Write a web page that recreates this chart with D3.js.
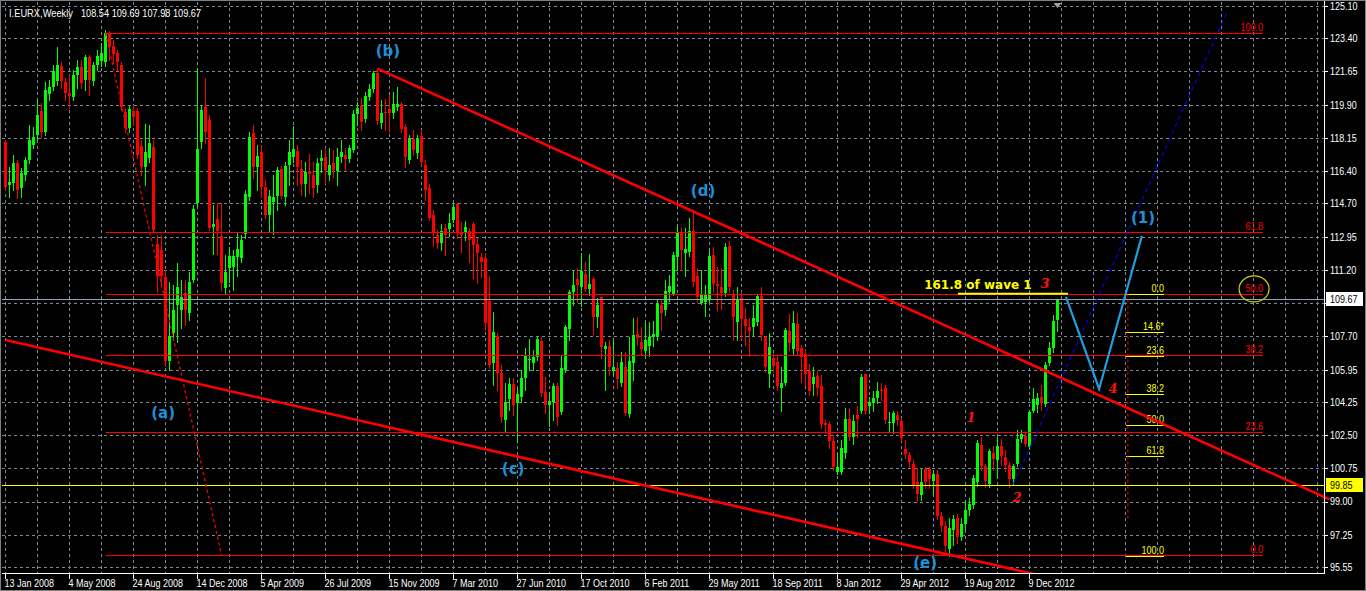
<!DOCTYPE html>
<html><head><meta charset="utf-8">
<script src="https://cdn.jsdelivr.net/npm/d3@7"></script>
<style>
html,body{margin:0;padding:0;background:#000;overflow:hidden}
svg{display:block}
.ax{font-family:"Liberation Sans","DejaVu Sans",sans-serif;font-size:11px}
</style></head><body>
<svg id="c" width="1366" height="591"></svg>
<script>
// ---------------- DATA (weekly bars, first bar = 13 Jan 2008) ----------------
const openP = [
117.94,115.68,115.78,116.83,115.52,116.21,116.99,117.79,118.31,119.58,
118.47,120.47,120.84,121.16,121.94,121.10,120.52,120.31,121.47,121.89,
121.21,122.42,121.16,122.00,122.21,122.16,123.68,122.99,122.63,122.00,
119.52,118.68,119.58,119.58,117.73,116.62,117.10,117.68,112.57,112.25,
110.83,106.41,107.88,109.36,109.09,109.99,108.93,110.67,114.73,117.94,
119.78,119.10,113.46,113.89,112.99,110.25,111.31,111.36,111.88,111.83,
113.10,115.04,118.41,116.62,117.41,115.57,114.10,114.78,115.09,116.52,
115.04,116.73,117.15,117.47,116.52,115.73,116.41,116.21,115.68,116.94,
117.15,116.21,116.83,116.41,117.15,117.26,117.05,117.52,119.42,119.84,
119.15,120.31,120.73,121.57,118.94,119.52,119.68,119.47,119.78,119.94,
118.73,116.99,118.10,117.36,118.26,116.73,115.52,114.10,113.05,112.62,
113.41,113.36,113.83,114.68,113.15,113.15,113.26,113.62,112.57,111.88,
111.83,109.57,106.30,107.72,105.77,103.30,104.40,105.20,104.19,104.51,
105.51,106.46,106.30,106.62,107.46,104.77,104.09,104.25,105.10,103.71,
105.93,108.10,110.04,110.72,110.30,110.99,110.20,110.72,108.72,109.78,
107.04,107.20,105.88,106.04,105.25,106.09,103.61,106.30,107.83,107.41,
106.93,107.20,107.67,107.67,109.36,109.09,110.04,109.94,111.88,113.15,
112.09,112.15,113.26,110.88,109.46,109.51,109.62,111.99,110.46,110.30,
109.99,112.46,109.94,108.46,109.73,108.62,108.20,108.20,108.46,109.83,
107.67,105.72,106.56,106.35,104.99,105.25,107.99,107.04,108.36,107.09,
106.77,105.88,105.20,105.62,105.10,103.14,103.09,102.20,100.56,100.56,
101.56,103.35,102.40,103.56,103.77,105.72,104.04,104.19,104.46,104.88,
104.99,103.14,103.14,103.56,103.25,101.77,101.46,100.98,100.03,99.35,
100.72,100.72,100.09,100.45,98.24,97.71,96.50,97.50,98.14,97.13,
97.82,98.56,98.82,100.03,101.98,100.87,99.93,101.56,101.19,101.93,
101.35,100.93,100.19,100.98,102.30,102.46,101.88,103.77,104.09,104.51,
104.14,106.30,107.09,108.54];
const highP = [
118.05,116.62,117.26,116.99,116.57,117.15,118.84,118.73,120.15,119.99,
121.10,121.21,122.00,122.94,122.16,121.31,121.47,121.73,122.26,122.26,
122.53,122.53,122.16,122.79,123.15,123.84,123.79,123.31,122.79,122.16,
119.73,119.84,119.89,119.73,118.05,118.89,118.84,118.05,113.05,113.05,
111.20,110.57,110.41,111.57,110.67,110.67,111.10,114.63,121.84,119.89,
121.31,119.37,114.63,114.73,114.73,111.99,112.41,112.25,113.20,113.05,
115.41,118.47,118.84,117.79,117.79,115.94,115.41,116.21,116.62,116.67,
116.88,118.05,118.78,117.79,116.99,116.88,117.31,116.88,117.10,117.52,
117.63,117.63,117.52,117.63,118.05,117.63,117.79,119.63,120.05,120.26,
120.57,121.00,121.70,121.80,120.15,120.20,120.42,120.57,120.84,120.05,
118.89,118.31,118.57,118.31,118.57,116.99,115.73,114.36,113.31,113.62,
113.62,114.20,114.73,114.73,113.73,113.78,113.41,113.73,112.89,112.09,
112.09,110.88,108.99,107.88,106.20,105.25,105.51,105.51,104.99,105.93,
107.09,107.56,106.99,107.72,107.67,105.56,104.72,105.25,105.25,106.72,
108.31,110.15,111.20,111.31,112.09,111.62,112.04,110.83,109.73,109.78,
107.41,107.51,107.51,106.35,106.88,106.88,107.67,108.67,108.72,108.20,
108.46,108.46,108.51,109.62,109.62,110.67,110.94,112.15,113.52,113.46,
113.41,113.94,114.25,111.31,111.20,110.41,112.20,112.41,111.36,111.31,
112.62,112.73,110.15,110.30,110.04,109.20,108.67,109.36,109.94,110.30,
107.72,107.88,106.83,106.67,106.09,108.15,108.88,109.04,108.93,107.25,
107.04,106.25,106.09,105.88,105.67,103.30,103.25,102.51,101.56,102.25,
103.93,103.93,103.56,104.04,105.72,105.72,104.51,104.83,105.30,105.25,
105.15,103.71,103.77,103.77,103.40,102.25,101.61,101.19,100.77,100.72,
100.82,100.82,100.66,100.66,98.45,97.98,98.14,98.29,98.35,98.14,
99.08,99.19,100.40,102.25,102.40,100.98,101.77,101.93,102.40,102.30,
101.72,101.09,100.98,102.77,102.77,102.72,103.82,104.99,104.72,105.15,
106.35,107.41,108.83,109.69];
const lowP = [
115.41,115.04,115.41,114.99,115.04,115.94,116.83,117.63,118.05,118.20,
118.31,120.15,120.68,120.95,120.79,120.15,119.73,120.15,120.79,120.79,
120.68,120.42,120.95,121.73,121.94,121.94,122.26,122.10,121.73,119.63,
118.47,118.47,118.84,117.10,116.21,115.68,116.88,113.20,110.04,110.41,
106.14,105.93,107.51,107.41,108.15,108.31,108.57,110.57,114.57,117.63,
117.89,113.31,112.04,112.04,110.15,109.94,110.57,110.15,110.88,111.62,
112.89,114.89,116.05,115.41,115.04,113.94,113.20,113.10,114.36,114.99,
114.63,115.68,116.88,115.68,115.15,115.09,115.26,115.04,115.31,116.36,
115.78,115.94,116.10,115.68,116.88,116.47,116.88,117.41,118.84,118.57,
118.99,120.15,120.57,118.89,118.68,118.57,118.47,119.21,119.63,118.47,
116.62,116.83,117.26,117.10,116.73,114.89,113.83,112.46,112.36,112.25,
111.99,112.99,113.73,112.89,112.15,112.78,111.62,110.78,110.51,110.83,
108.04,106.04,105.15,104.88,103.19,102.66,103.82,103.56,102.15,104.25,
104.88,105.93,105.93,106.46,104.56,103.66,102.98,103.30,103.04,103.61,
105.83,107.51,109.36,109.51,109.30,110.10,109.88,107.83,108.20,106.56,
104.88,105.67,105.67,104.99,105.10,103.56,103.45,105.41,107.25,106.72,
106.62,106.67,107.20,107.51,108.04,108.83,109.57,109.88,111.20,111.20,
110.88,111.93,110.36,109.51,109.41,108.78,109.51,110.04,109.09,109.15,
109.83,110.04,107.51,107.51,107.62,107.25,106.67,107.72,108.31,107.51,
105.83,105.04,105.83,104.88,103.77,105.15,106.99,106.77,106.77,105.30,
105.15,104.62,104.62,104.62,102.88,102.61,101.82,100.66,100.45,100.45,
101.30,102.25,102.04,102.40,103.66,103.61,103.66,103.77,104.19,104.35,
103.14,102.66,102.61,103.04,102.25,101.30,100.82,99.72,99.03,99.08,
99.72,99.72,99.40,98.08,97.45,96.40,96.13,96.71,96.82,96.98,
97.50,98.29,98.66,99.82,100.66,99.77,99.77,100.66,100.24,100.93,
100.61,99.77,99.93,100.87,102.15,101.93,101.77,103.71,103.71,103.82,
104.04,106.20,106.88,107.98];
const closeP = [
115.57,115.84,116.83,115.41,116.31,116.99,118.05,118.20,119.37,118.47,
120.68,120.84,121.68,122.00,121.16,120.52,120.36,121.47,121.89,121.05,
122.42,121.21,122.00,122.47,122.63,123.68,122.94,122.58,122.16,119.78,
118.68,119.68,119.26,117.26,116.62,117.41,117.89,113.31,110.88,110.88,
106.41,107.72,109.09,110.30,109.78,109.09,110.57,114.42,117.58,119.63,
118.47,113.41,113.62,113.26,110.51,111.10,111.93,111.93,112.31,112.78,
115.20,118.20,116.62,117.20,115.57,114.10,115.09,115.04,116.47,115.09,
116.67,117.41,117.58,116.62,115.73,116.36,116.26,115.52,116.83,117.10,
116.47,116.73,116.47,117.15,117.41,117.05,117.63,119.42,119.73,118.99,
120.36,120.73,121.57,119.05,119.47,119.47,119.47,119.94,119.94,118.63,
117.15,118.15,117.52,118.15,116.88,115.41,113.94,113.15,112.62,113.26,
113.05,113.67,114.52,113.15,113.05,113.46,112.78,112.52,112.09,111.62,
108.41,106.20,107.94,105.77,103.45,104.25,105.20,104.09,104.67,105.51,
106.72,106.51,106.62,107.56,104.72,104.09,104.30,105.10,103.45,106.04,
108.20,110.04,110.41,110.41,111.15,110.20,110.46,108.72,109.36,107.14,
107.20,106.09,106.09,105.46,106.35,103.66,106.41,107.78,107.62,107.04,
107.51,107.67,107.83,109.41,108.93,110.10,110.36,111.99,113.15,112.25,
112.31,113.26,110.57,109.78,109.88,109.88,111.93,110.46,110.36,109.99,
112.41,110.30,108.72,109.67,108.62,108.25,107.99,108.67,109.83,107.78,
106.09,107.14,106.14,105.10,105.25,108.04,107.35,108.41,106.93,106.62,
105.72,104.83,105.56,104.99,103.09,103.04,102.20,100.82,100.82,101.82,
103.35,102.40,103.25,103.35,105.56,103.77,104.25,104.46,104.83,104.83,
103.30,103.19,103.66,103.30,102.35,101.51,101.09,99.82,99.40,100.03,
100.03,100.19,100.45,98.24,97.71,96.66,97.61,98.08,97.13,97.82,
98.56,98.87,100.24,102.09,100.87,100.09,101.67,101.25,101.93,101.40,
100.93,100.19,100.87,102.30,102.56,102.04,103.71,104.40,104.46,104.19,
106.20,107.09,108.51,109.67];

const titleName = "I.EURX,Weekly";
const titleValues = "108.54 109.69 107.98 109.67";
const priceTickLabels = ["125.10","123.40","121.65","119.90","118.15","116.40","114.70","112.95","111.20","109.45","107.70","105.95","104.25","102.50","100.75","99.00","97.25","95.55"];
const timeTickLabels = ["13 Jan 2008","4 May 2008","24 Aug 2008","14 Dec 2008","5 Apr 2009","26 Jul 2009","15 Nov 2009","7 Mar 2010","27 Jun 2010","17 Oct 2010","6 Feb 2011","29 May 2011","18 Sep 2011","8 Jan 2012","29 Apr 2012","19 Aug 2012","9 Dec 2012"];
const lastPrice = 109.67;
const yellowLevel = 99.85;

// Fibonacci retracement (red): from 2008 high to wave (e) low
const fiboRedAnchors = [{bar:25, price:123.68},{bar:54, price:96.19}];
const fiboRedLevels = [1.0, 0.618, 0.5, 0.382, 0.236, 0.0];
const fiboRedLabels = ["100.0","61.8","50.0","38.2","23.6","0.0"];
const fiboRedEndBar = 314.4;
// Fibonacci retracement (yellow) of the wave-3 rally
const fiboYelTop = 109.95, fiboYelBottom = 96.13;
const fiboYelLevels = [0, 0.146, 0.236, 0.382, 0.5, 0.618, 1.0];
const fiboYelLabels = ["0.0","14.6*","23.6","38.2","50.0","61.8","100.0"];
const fiboYelBars = [280.1, 289.6];
const fiboYelRay = [{bar:280.6, price:109.95},{bar:280.6, price:97.9}];

// trend lines
const upperTrend = [{bar:93, price:121.80},{bar:172, price:114.27}];
const upperTrendEndBar = 331;
const lowerTrend = [{bar:0, price:107.51},{bar:236, price:96.19}];
const lowerTrendEndBar = 300;
const blueTrend = [{bar:252, price:99.93},{bar:305.4, price:124.78}];
const wave161 = {bars:[238.1, 265.6], price:109.94};
const projection = [{bar:265.1, price:109.78},{bar:273.4, price:104.93},{bar:284.1, price:112.99}];

const waveLabels = [
  {t:"(a)", bar:39.4, price:103.66},
  {t:"(b)", bar:95.6, price:122.73},
  {t:"(c)", bar:126.9, price:100.72},
  {t:"(d)", bar:174.4, price:115.36},
  {t:"(e)", bar:229.9, price:95.76},
  {t:"(1)", bar:284.4, price:113.94}
];
const subLabels = [
  {t:"1", bar:241.4, price:103.45},
  {t:"2", bar:252.9, price:99.19},
  {t:"3", bar:259.9, price:110.51},
  {t:"4", bar:276.9, price:104.93}
];
const noteLabel = {t:"161.8 of wave 1", bar:243.1, price:110.41};

// ---------------- DRAW ----------------
const W = 1366, H = 591;
const L = 2, T = 2, R = 1324, B = 573;
const x = d3.scaleLinear().domain([0, 1]).range([5.5, 9.5]);
const y = d3.scaleLinear().domain([95.55, 125.10]).range([567, 6]);
const yc = v => Math.round(y(v)) + 0.5;

const svg = d3.select("#c");
svg.append("rect").attr("width", W).attr("height", H).attr("fill", "#000");
svg.append("clipPath").attr("id", "plot").append("rect")
  .attr("x", L).attr("y", T).attr("width", R - L).attr("height", B - T);

const grid = svg.append("g").attr("shape-rendering", "crispEdges");
const gridBars = d3.range(0, 330, 8);
grid.selectAll("line.v").data(gridBars).join("line").attr("class", "v")
  .attr("x1", d => x(d)).attr("x2", d => x(d)).attr("y1", T).attr("y2", B)
  .attr("stroke", "#778899").attr("stroke-dasharray", "3,3");
const priceTicks = priceTickLabels.map(Number);
grid.selectAll("line.h").data(priceTicks).join("line").attr("class", "h")
  .attr("x1", L).attr("x2", R).attr("y1", d => yc(d)).attr("y2", d => yc(d))
  .attr("stroke", "#778899").attr("stroke-dasharray", "3,3");

const plot = svg.append("g").attr("clip-path", "url(#plot)");

// candles
const bars = openP.map((o, i) => ({i, o, h: highP[i], l: lowP[i], c: closeP[i]}));
const cg = plot.append("g").attr("shape-rendering", "crispEdges");
cg.selectAll("line").data(bars).join("line")
  .attr("x1", d => x(d.i)).attr("x2", d => x(d.i))
  .attr("y1", d => Math.round(y(d.h))).attr("y2", d => Math.round(y(d.l)) + 1)
  .attr("stroke", d => d.c >= d.o ? "#00ff00" : "#ff0000");
cg.selectAll("rect").data(bars).join("rect")
  .attr("x", d => x(d.i) - 1.5).attr("width", 3)
  .attr("y", d => Math.round(y(Math.max(d.o, d.c))))
  .attr("height", d => Math.max(1, Math.round(y(Math.min(d.o, d.c))) - Math.round(y(Math.max(d.o, d.c)))))
  .attr("fill", d => d.c >= d.o ? "#00ff00" : "#ff0000");

// horizontal lines
plot.append("line").attr("x1", L).attr("x2", R).attr("y1", yc(yellowLevel)).attr("y2", yc(yellowLevel))
  .attr("stroke", "#ffff00").attr("shape-rendering", "crispEdges");
plot.append("line").attr("x1", L).attr("x2", R).attr("y1", yc(lastPrice)).attr("y2", yc(lastPrice))
  .attr("stroke", "#9aa4b0").attr("shape-rendering", "crispEdges");

// red fibo
const fr = fiboRedAnchors;
const frPrice = lv => fr[1].price + lv * (fr[0].price - fr[1].price);
const frg = plot.append("g");
frg.selectAll("line").data(fiboRedLevels).join("line")
  .attr("x1", x(fr[0].bar)).attr("x2", x(fiboRedEndBar))
  .attr("y1", d => yc(frPrice(d))).attr("y2", d => yc(frPrice(d)))
  .attr("stroke", "#ff0000").attr("shape-rendering", "crispEdges");
frg.selectAll("text").data(fiboRedLevels).join("text").attr("class", "ax")
  .attr("x", x(fiboRedEndBar)).attr("y", d => yc(frPrice(d)) - 3)
  .attr("text-anchor", "end").attr("fill", "#ff0000")
  .text((d, k) => fiboRedLabels[k]);
plot.append("line").attr("x1", x(fr[0].bar)).attr("y1", y(fr[0].price))
  .attr("x2", x(fr[1].bar)).attr("y2", y(fr[1].price))
  .attr("stroke", "#ff0000").attr("stroke-width", 1.3).attr("stroke-dasharray", "3,3");

// yellow fibo
const fyPrice = lv => fiboYelTop - lv * (fiboYelTop - fiboYelBottom);
const fyg = plot.append("g");
fyg.selectAll("line").data(fiboYelLevels).join("line")
  .attr("x1", x(fiboYelBars[0])).attr("x2", x(fiboYelBars[1]))
  .attr("y1", d => yc(fyPrice(d))).attr("y2", d => yc(fyPrice(d)))
  .attr("stroke", "#ffff00").attr("shape-rendering", "crispEdges");
fyg.selectAll("text").data(fiboYelLevels).join("text").attr("class", "ax")
  .attr("x", x(fiboYelBars[1])).attr("y", d => yc(fyPrice(d)) - 3)
  .attr("text-anchor", "end").attr("fill", "#ffff00")
  .text((d, k) => fiboYelLabels[k]);
plot.append("line").attr("x1", x(fiboYelRay[0].bar)).attr("x2", x(fiboYelRay[1].bar))
  .attr("y1", y(fiboYelRay[0].price)).attr("y2", y(fiboYelRay[1].price))
  .attr("stroke", "#ff0000").attr("stroke-dasharray", "3,3");

// ellipse around 50.0
plot.append("ellipse").attr("cx", x(fiboRedEndBar) - 9).attr("cy", y(frPrice(0.5)) - 5)
  .attr("rx", 15).attr("ry", 13).attr("fill", "none").attr("stroke", "#d4d400").attr("stroke-width", 1.2);

// trend lines
const lineAt = (a, b, bar) => a.price + (bar - a.bar) * (b.price - a.price) / (b.bar - a.bar);
plot.append("line").attr("x1", x(upperTrend[0].bar)).attr("y1", y(upperTrend[0].price))
  .attr("x2", x(upperTrendEndBar)).attr("y2", y(lineAt(upperTrend[0], upperTrend[1], upperTrendEndBar)))
  .attr("stroke", "#ff0000").attr("stroke-width", 2.6);
svg.append("line").attr("x1", R).attr("y1", y(lineAt(upperTrend[0], upperTrend[1], (R - 5.5) / 4)))
  .attr("x2", x(upperTrendEndBar)).attr("y2", y(lineAt(upperTrend[0], upperTrend[1], upperTrendEndBar)))
  .attr("stroke", "#ff0000").attr("stroke-width", 2.6);
plot.append("line").attr("x1", x(lowerTrend[0].bar)).attr("y1", y(lowerTrend[0].price))
  .attr("x2", x(lowerTrendEndBar)).attr("y2", y(lineAt(lowerTrend[0], lowerTrend[1], lowerTrendEndBar)))
  .attr("stroke", "#ff0000").attr("stroke-width", 2.6);
plot.append("line").attr("x1", x(blueTrend[0].bar)).attr("y1", y(blueTrend[0].price))
  .attr("x2", x(blueTrend[1].bar)).attr("y2", y(blueTrend[1].price))
  .attr("stroke", "#0000ff").attr("stroke-width", 1.2).attr("stroke-dasharray", "4,4");
plot.append("line").attr("x1", x(wave161.bars[0])).attr("x2", x(wave161.bars[1]))
  .attr("y1", y(wave161.price)).attr("y2", y(wave161.price))
  .attr("stroke", "#ffff00").attr("stroke-width", 2);
plot.append("path").datum(projection)
  .attr("d", d3.line().x(d => x(d.bar)).y(d => y(d.price)))
  .attr("fill", "none").attr("stroke", "#1ea0dc").attr("stroke-width", 2.2);

// texts
plot.selectAll("text.wave").data(waveLabels).join("text").attr("class", "wave")
  .attr("x", d => x(d.bar)).attr("y", d => y(d.price)).attr("dy", "0.35em")
  .attr("text-anchor", "middle").attr("fill", "#1e90d8")
  .style("font", "bold 15px 'DejaVu Sans', sans-serif").text(d => d.t);
plot.selectAll("text.sub").data(subLabels).join("text").attr("class", "sub")
  .attr("x", d => x(d.bar)).attr("y", d => y(d.price)).attr("dy", "0.35em")
  .attr("text-anchor", "middle").attr("fill", "#ff1010")
  .style("font", "italic bold 13px 'DejaVu Serif', serif").text(d => d.t);
plot.append("text").attr("x", x(noteLabel.bar)).attr("y", y(noteLabel.price)).attr("dy", "0.35em")
  .attr("text-anchor", "middle").attr("fill", "#ffff00")
  .style("font", "bold 12px 'DejaVu Sans', sans-serif").text(noteLabel.t);

// title (fixed widths measured on the reference)
svg.append("text").attr("class", "ttl").attr("x", 9).attr("y", 17).attr("fill", "#ffffff")
  .style("font", "11px 'Liberation Sans', sans-serif")
  .attr("textLength", 64).attr("lengthAdjust", "spacingAndGlyphs").text(titleName);
svg.append("text").attr("class", "ttl").attr("x", 81).attr("y", 17).attr("fill", "#ffffff")
  .style("font", "11px 'Liberation Sans', sans-serif")
  .attr("textLength", 120).attr("lengthAdjust", "spacingAndGlyphs").text(titleValues);

// shift marker
svg.append("path").attr("d", `M${x(263) - 4},3L${x(263) + 4},3L${x(263)},8Z`).attr("fill", "#a0a0a0");

// axes
const ax = svg.append("g").attr("shape-rendering", "crispEdges");
ax.append("line").attr("x1", R + 0.5).attr("x2", R + 0.5).attr("y1", 0).attr("y2", B + 1).attr("stroke", "#fff");
ax.append("line").attr("x1", L).attr("x2", R + 1).attr("y1", B + 0.5).attr("y2", B + 0.5).attr("stroke", "#fff");
ax.selectAll("line.pt").data(priceTicks).join("line").attr("class", "pt")
  .attr("x1", R).attr("x2", R + 4).attr("y1", d => yc(d)).attr("y2", d => yc(d)).attr("stroke", "#fff");
svg.selectAll("text.pl").data(priceTickLabels).join("text").attr("class", "ax pl")
  .attr("x", R + 6).attr("y", d => y(+d)).attr("dy", "0.36em").attr("fill", "#fff")
  .style("opacity", d => d === "109.45" ? 0 : 1).text(d => d);
const timeBars = timeTickLabels.map((d, k) => k * 16);
ax.selectAll("line.tt").data(timeBars).join("line").attr("class", "tt")
  .attr("x1", d => x(d)).attr("x2", d => x(d)).attr("y1", B).attr("y2", B + 6).attr("stroke", "#fff");
svg.selectAll("text.tl").data(timeTickLabels).join("text").attr("class", "ax tl")
  .attr("x", (d, k) => x(timeBars[k]) - 1).attr("y", 587).attr("fill", "#fff").text(d => d);

// price boxes
function priceBox(v, bg) {
  const cy = Math.round(y(v));
  svg.append("rect").attr("x", R + 2).attr("y", cy - 7).attr("width", 37).attr("height", 14)
    .attr("fill", bg);
  svg.append("text").attr("class", "ax").attr("x", R + 6).attr("y", cy).attr("dy", "0.36em")
    .attr("fill", "#000").text(v.toFixed(2));
}
priceBox(lastPrice, "#ffffff");
priceBox(yellowLevel, "#ffff00");

// narrow the Tahoma-like axis font to the reference width
const probe = svg.append("text").attr("class", "ax").text("125.10");
const k = 27.5 / probe.node().getComputedTextLength();
probe.remove();
svg.selectAll("text.ax").each(function () {
  const len = this.getComputedTextLength();
  d3.select(this).attr("textLength", len * k).attr("lengthAdjust", "spacingAndGlyphs");
});

// window frame
svg.append("rect").attr("x", 0.5).attr("y", 0.5).attr("width", W - 1).attr("height", H - 1)
  .attr("fill", "none").attr("stroke", "#808080").attr("shape-rendering", "crispEdges");
</script>
</body></html>
